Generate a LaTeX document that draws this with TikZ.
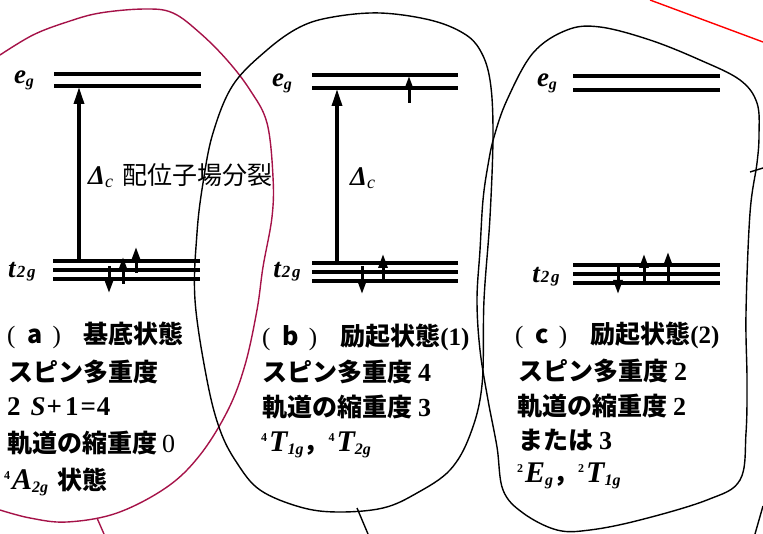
\documentclass[tikz,border=0pt]{standalone}
\usepackage{fontspec}
\setmainfont{Liberation Serif}
\newfontfamily\jp{Noto Sans CJK JP}
\usetikzlibrary{arrows.meta}
\definecolor{crim}{RGB}{165,18,72}
\definecolor{redline}{RGB}{255,0,0}
\newcommand\plab[1]{{\rmfamily\mdseries(}\hspace{12pt}{\jp\bfseries #1}\hspace{10pt}{\rmfamily\mdseries)}\hspace{23pt}}
\newcommand\num[1]{{\rmfamily\bfseries\fontsize{26}{26}\selectfont #1}}
\newcommand\trm[3]{\raisebox{10pt}{\rmfamily\fontsize{12}{12}\selectfont\bfseries #1}\hspace{2pt}{\rmfamily\fontsize{30}{30}\selectfont\bfseries\itshape #2}\raisebox{-3pt}{\rmfamily\fontsize{16}{16}\selectfont\bfseries\itshape #3}}
\newcommand\eglab{{\fontsize{27}{27}\selectfont\bfseries\itshape e}\raisebox{-3pt}{\fontsize{16}{16}\selectfont\bfseries\itshape g}}
\newcommand\tlab{{\fontsize{27}{27}\selectfont\bfseries\itshape t}\hspace{1pt}{\fontsize{17}{17}\selectfont\bfseries\itshape 2\hspace{2pt}g}}
\newcommand\dlt{{\fontsize{27}{27}\selectfont\bfseries\itshape Δ}\raisebox{-3pt}{\fontsize{18}{18}\selectfont\itshape c}}
\begin{document}
\begin{tikzpicture}[x=1pt,y=-1pt,
  lvl/.style={line width=3.2pt},
  gaparrow/.style={line width=3.2pt,-{Triangle[width=10pt,length=17pt]}},
  elec/.style={line width=3pt,-{Triangle[width=9pt,length=14pt]}},
  outl/.style={line width=1.4pt,black},
  crimline/.style={line width=1.4pt,crim},
  levlab/.style={inner sep=0,font=\rmfamily\fontsize{24}{24}\selectfont},
  jprow/.style={anchor=base west,inner sep=0,font=\jp\bfseries\fontsize{25}{25}\selectfont},
  dlab/.style={anchor=base west,inner sep=0,font=\rmfamily\fontsize{24}{24}\selectfont}]
\useasboundingbox (0,0) rectangle (763,534);

% ---------- outlines ----------
\draw[crimline] plot[smooth,tension=0.6] coordinates {(0,55) (33,35) (67,22) (100,13) (145,9) (173,13) (200,33) (227,60) (250,90) (267,123) (273,177) (272,217) (263,267) (257,310) (245,365) (228,410) (200,455) (167,487) (117,513) (67,522) (30,518) (0,510)};
\coordinate (crimA) at (97,518); \coordinate (crimB) at (104,534);
\draw[crimline] (crimA) -- (crimB);

\draw[outl] plot[smooth cycle,tension=0.6] coordinates {(195,300) (197,233) (203,183) (213,133) (233,85) (267,50) (300,27) (333,17) (380,13) (430,20) (463,33) (480,50) (490,80) (493,133) (490,217) (484,300) (482,385) (470,435) (450,470) (417,493) (383,508) (337,512) (300,507) (260,490) (237,463) (220,430) (207,380)};
\coordinate (bTickA) at (357,508); \coordinate (bTickB) at (368,534);
\draw[outl] (bTickA) -- (bTickB);

\draw[outl] plot[smooth cycle,tension=0.6] coordinates {(533,53) (567,30) (600,27) (650,40) (700,60) (740,80) (757,103) (759,135) (757,163) (750,213) (746,313) (747,380) (746,433) (740,480) (707,500) (640,520) (590,530) (557,530) (523,513) (503,490) (497,447) (488,400) (480,350) (477,300) (480,250) (483,200) (488,165) (494,137) (507,100)};
\coordinate (cTickA) at (750,172); \coordinate (cTickB) at (763,168);
\draw[outl] (cTickA) -- (cTickB);
\coordinate (rEdgeA) at (763,506); \coordinate (rEdgeB) at (755,534);
\draw[outl] (rEdgeA) -- (rEdgeB);
\coordinate (redA) at (650,0); \coordinate (redB) at (763,42);
\draw[line width=1.4pt,redline] (redA) -- (redB);

% ---------- panel (a) ----------
\coordinate (aE1L) at (54,74);  \coordinate (aE1R) at (201,74);
\coordinate (aE2L) at (54,86);  \coordinate (aE2R) at (201,86);
\coordinate (aT1L) at (53,261); \coordinate (aT1R) at (200,261);
\coordinate (aT2L) at (53,270); \coordinate (aT2R) at (200,270);
\coordinate (aT3L) at (53,279); \coordinate (aT3R) at (200,279);
\draw[lvl] (aE1L) -- (aE1R); \draw[lvl] (aE2L) -- (aE2R);
\draw[lvl] (aT1L) -- (aT1R); \draw[lvl] (aT2L) -- (aT2R); \draw[lvl] (aT3L) -- (aT3R);
\coordinate (aDb) at (79,261); \coordinate (aDt) at (79,87);
\draw[gaparrow] (aDb) -- (aDt);
\coordinate (ae1s) at (109,266); \coordinate (ae1e) at (109,293);
\coordinate (ae2s) at (123,284); \coordinate (ae2e) at (123,257);
\coordinate (ae3s) at (136,273); \coordinate (ae3e) at (136,247);
\draw[elec] (ae1s) -- (ae1e); \draw[elec] (ae2s) -- (ae2e); \draw[elec] (ae3s) -- (ae3e);
\node[levlab] (aEg) at (24,80) {\eglab};
\node[levlab] (aT2g) at (22,272) {\tlab};
\node[dlab] (aDl) at (88,185) {\dlt\hspace{9pt}{\jp\fontsize{25}{25}\selectfont 配位子場分裂}};
\node[jprow] (aR1) at (7,344) {\plab{a}基底状態};
\node[jprow] (aR2) at (8,382) {スピン多重度};
\node[jprow,font=\rmfamily\bfseries\fontsize{27}{27}\selectfont] (aR3) at (7,416) {2\hspace{10pt}\textit{S}\hspace{1pt}+\hspace{3pt}1\hspace{2pt}=\hspace{1pt}4};
\node[jprow] (aR4) at (7,452) {軌道の縮重度\hspace{5pt}{\rmfamily\mdseries\fontsize{26}{26}\selectfont 0}};
\node[jprow] (aR5) at (4,489) {\trm{4}{A}{2g}\hspace{9pt}状態};

% ---------- panel (b) ----------
\coordinate (bE1L) at (312,75);  \coordinate (bE1R) at (458,75);
\coordinate (bE2L) at (312,88);  \coordinate (bE2R) at (458,88);
\coordinate (bT1L) at (312,263); \coordinate (bT1R) at (458,263);
\coordinate (bT2L) at (312,272); \coordinate (bT2R) at (458,272);
\coordinate (bT3L) at (312,281); \coordinate (bT3R) at (458,281);
\draw[lvl] (bE1L) -- (bE1R); \draw[lvl] (bE2L) -- (bE2R);
\draw[lvl] (bT1L) -- (bT1R); \draw[lvl] (bT2L) -- (bT2R); \draw[lvl] (bT3L) -- (bT3R);
\coordinate (bDb) at (337,263); \coordinate (bDt) at (337,89);
\draw[gaparrow] (bDb) -- (bDt);
\coordinate (be0s) at (409,103); \coordinate (be0e) at (409,76);
\coordinate (be1s) at (362,266); \coordinate (be1e) at (362,294);
\coordinate (be2s) at (383,282); \coordinate (be2e) at (383,254);
\draw[elec] (be0s) -- (be0e); \draw[elec] (be1s) -- (be1e); \draw[elec] (be2s) -- (be2e);
\node[levlab] (bEg) at (282,83) {\eglab};
\node[levlab] (bT2g) at (287,272) {\tlab};
\node[dlab] (bDl) at (350,186) {\dlt};
\node[jprow] (bR1) at (262,346) {\plab{b}励起状態{\rmfamily\bfseries(1)}};
\node[jprow] (bR2) at (262,382) {スピン多重度\hspace{6pt}\num{4}};
\node[jprow] (bR3) at (262,417) {軌道の縮重度\hspace{6pt}\num{3}};
\node[jprow] (bR4) at (261,451) {\trm{4}{T}{1g}{\jp ，}\trm{4}{T}{2g}};

% ---------- panel (c) ----------
\coordinate (cE1L) at (573,76);  \coordinate (cE1R) at (720,76);
\coordinate (cE2L) at (573,90);  \coordinate (cE2R) at (720,90);
\coordinate (cT1L) at (573,265); \coordinate (cT1R) at (720,265);
\coordinate (cT2L) at (573,274); \coordinate (cT2R) at (720,274);
\coordinate (cT3L) at (573,283); \coordinate (cT3R) at (720,283);
\draw[lvl] (cE1L) -- (cE1R); \draw[lvl] (cE2L) -- (cE2R);
\draw[lvl] (cT1L) -- (cT1R); \draw[lvl] (cT2L) -- (cT2R); \draw[lvl] (cT3L) -- (cT3R);
\coordinate (ce1s) at (618,266); \coordinate (ce1e) at (618,294);
\coordinate (ce2s) at (644,284); \coordinate (ce2e) at (644,254);
\coordinate (ce3s) at (668,282); \coordinate (ce3e) at (668,252);
\draw[elec] (ce1s) -- (ce1e); \draw[elec] (ce2s) -- (ce2e); \draw[elec] (ce3s) -- (ce3e);
\node[levlab] (cEg) at (547,83) {\eglab};
\node[levlab] (cT2g) at (546,277) {\tlab};
\node[jprow] (cR1) at (515,344) {\plab{c}励起状態{\rmfamily\bfseries(2)}};
\node[jprow] (cR2) at (518,381) {スピン多重度\hspace{6pt}\num{2}};
\node[jprow] (cR3) at (517,416) {軌道の縮重度\hspace{6pt}\num{2}};
\node[jprow] (cR4) at (518,449) {または\hspace{6pt}\num{3}};
\node[jprow] (cR5) at (517,482) {\trm{2}{E}{g}{\jp ，}\trm{2}{T}{1g}};
\end{tikzpicture}
\end{document}
